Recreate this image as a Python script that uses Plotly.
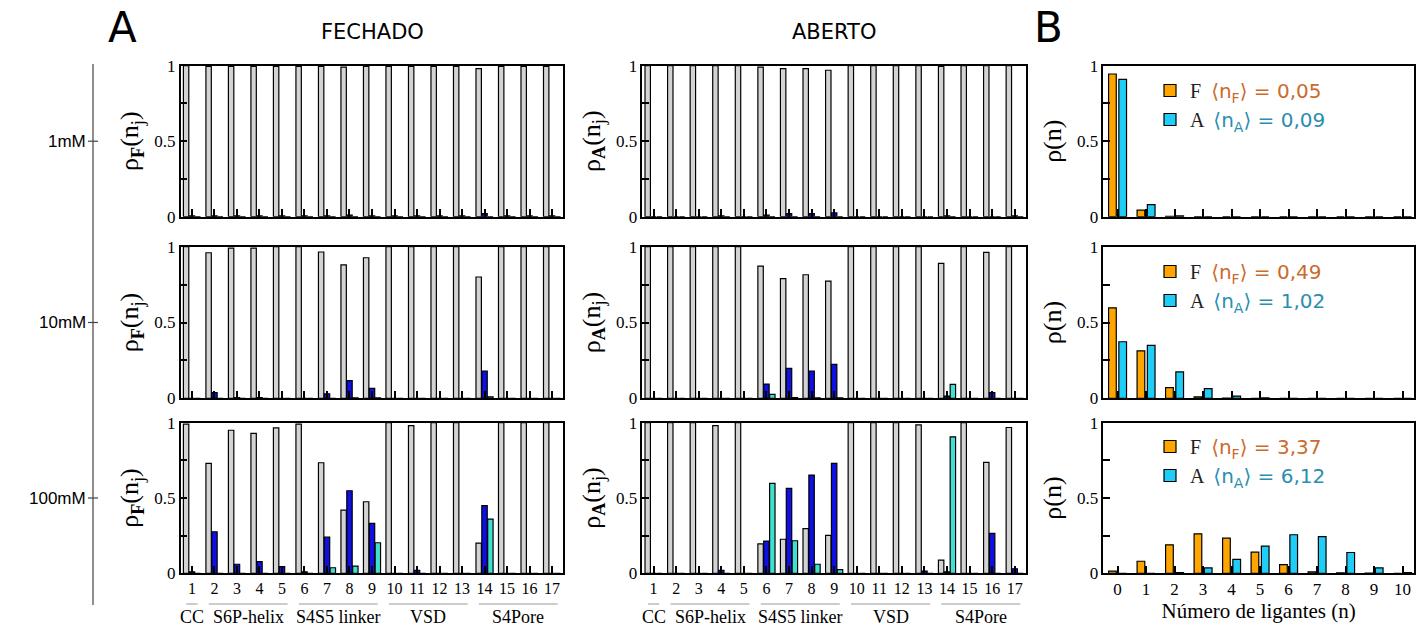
import plotly.graph_objects as go

# ---------------- data ----------------
residues = list(range(1, 18))
n_ligands = list(range(0, 11))
concentrations = ["1mM", "10mM", "100mM"]

# FECHADO (closed) - occupancy probability of each site: n=0 (gray), n=1 (blue), n=2 (turquoise)
fech_1mM_n0 = [1.0, 0.995, 0.995, 0.995, 0.995, 0.995, 0.995, 0.99, 0.995, 0.995, 0.995, 0.995, 0.995, 0.98, 0.995, 0.995, 0.995]
fech_1mM_n1 = [0.005, 0.005, 0.005, 0.005, 0.005, 0.005, 0.005, 0.01, 0.005, 0.005, 0.005, 0.005, 0.005, 0.02, 0.005, 0.005, 0.005]
fech_1mM_n2 = [0.0] * 17

fech_10mM_n0 = [1.0, 0.96, 0.99, 0.99, 1.0, 1.0, 0.965, 0.88, 0.927, 1.0, 1.0, 1.0, 1.0, 0.80, 1.0, 1.0, 1.0]
fech_10mM_n1 = [0.0, 0.037, 0.005, 0.005, 0.0, 0.0, 0.03, 0.116, 0.066, 0.0, 0.0, 0.0, 0.0, 0.18, 0.0, 0.0, 0.0]
fech_10mM_n2 = [0.0, 0.0, 0.0, 0.0, 0.0, 0.0, 0.0, 0.003, 0.003, 0.0, 0.0, 0.0, 0.0, 0.01, 0.0, 0.0, 0.0]

fech_100mM_n0 = [0.99, 0.73, 0.95, 0.929, 0.966, 0.99, 0.734, 0.42, 0.475, 1.0, 0.98, 1.0, 1.0, 0.2, 1.0, 1.0, 1.0]
fech_100mM_n1 = [0.01, 0.276, 0.06, 0.077, 0.044, 0.01, 0.24, 0.548, 0.332, 0.0, 0.02, 0.0, 0.0, 0.449, 0.0, 0.0, 0.0]
fech_100mM_n2 = [0.0, 0.0, 0.0, 0.0, 0.0, 0.0, 0.037, 0.048, 0.203, 0.0, 0.0, 0.0, 0.0, 0.36, 0.0, 0.0, 0.0]

# ABERTO (open)
aber_1mM_n0 = [1.0, 1.0, 1.0, 1.0, 1.0, 0.99, 0.98, 0.98, 0.97, 1.0, 1.0, 1.0, 1.0, 0.995, 1.0, 1.0, 1.0]
aber_1mM_n1 = [0.0, 0.0, 0.0, 0.005, 0.0, 0.01, 0.02, 0.02, 0.025, 0.0, 0.0, 0.0, 0.0, 0.005, 0.0, 0.0, 0.005]
aber_1mM_n2 = [0.0] * 17

aber_10mM_n0 = [1.0, 1.0, 1.0, 1.0, 1.0, 0.872, 0.79, 0.815, 0.773, 1.0, 1.0, 1.0, 1.0, 0.89, 1.0, 0.962, 1.0]
aber_10mM_n1 = [0.0, 0.0, 0.0, 0.0, 0.0, 0.094, 0.198, 0.18, 0.224, 0.0, 0.0, 0.0, 0.0, 0.015, 0.0, 0.037, 0.0]
aber_10mM_n2 = [0.0, 0.0, 0.0, 0.0, 0.0, 0.026, 0.005, 0.003, 0.003, 0.0, 0.0, 0.0, 0.0, 0.092, 0.0, 0.0, 0.0]

aber_100mM_n0 = [1.0, 1.0, 1.0, 0.98, 1.0, 0.195, 0.226, 0.296, 0.252, 1.0, 1.0, 1.0, 0.985, 0.088, 1.0, 0.737, 0.968]
aber_100mM_n1 = [0.0, 0.0, 0.0, 0.02, 0.0, 0.214, 0.564, 0.652, 0.73, 0.0, 0.0, 0.0, 0.015, 0.01, 0.0, 0.265, 0.03]
aber_100mM_n2 = [0.0, 0.0, 0.0, 0.0, 0.0, 0.597, 0.216, 0.06, 0.025, 0.0, 0.0, 0.0, 0.0, 0.906, 0.0, 0.0, 0.0]

# Panel B: distribution of total number of bound ligands
rhoF_1mM = [0.945, 0.043, 0.003, 0.0, 0.0, 0.0, 0.0, 0.0, 0.0, 0.0, 0.0]
rhoA_1mM = [0.909, 0.08, 0.005, 0.0, 0.0, 0.0, 0.0, 0.0, 0.0, 0.0, 0.0]
rhoF_10mM = [0.597, 0.313, 0.071, 0.01, 0.002, 0.0, 0.0, 0.0, 0.0, 0.0, 0.0]
rhoA_10mM = [0.373, 0.349, 0.174, 0.064, 0.015, 0.003, 0.0, 0.0, 0.0, 0.0, 0.0]
rhoF_100mM = [0.015, 0.08, 0.189, 0.262, 0.233, 0.14, 0.058, 0.01, 0.003, 0.002, 0.0]
rhoA_100mM = [0.0, 0.0, 0.005, 0.036, 0.093, 0.18, 0.256, 0.243, 0.138, 0.036, 0.005]
meanF = ["0,05", "0,49", "3,37"]
meanA = ["0,09", "1,02", "6,12"]

groups = ["CC", "S6P-helix", "S4S5 linker", "VSD", "S4Pore"]
group_first = [1, 2, 6, 10, 14]
group_last = [1, 5, 9, 13, 17]

# ---------------- style ----------------
SERIF = "Liberation Serif"
SANS = "DejaVu Sans"
GRAY = "#d3d3d3"
BLUE = "#1010e6"
TURQ = "#40e0d0"
ORANGE = "#ffa500"
SKY = "#1fcdf7"
COL_F = "#cc6a2c"
COL_A = "#2a8eb0"
W, H = 1428, 627

def px_x(p):
    return p / W

def px_y(p):
    return 1 - p / H

col_dom = [[px_x(180.7), px_x(563.3)], [px_x(642.3), px_x(1026)], [px_x(1103.3), px_x(1414)]]
row_px = [(65.7, 216.7), (246.7, 398.3), (422.7, 573.3)]
row_dom = [[px_y(b), px_y(t)] for t, b in row_px]

fech = [(fech_1mM_n0, fech_1mM_n1, fech_1mM_n2),
        (fech_10mM_n0, fech_10mM_n1, fech_10mM_n2),
        (fech_100mM_n0, fech_100mM_n1, fech_100mM_n2)]
aber = [(aber_1mM_n0, aber_1mM_n1, aber_1mM_n2),
        (aber_10mM_n0, aber_10mM_n1, aber_10mM_n2),
        (aber_100mM_n0, aber_100mM_n1, aber_100mM_n2)]
rhoF = [rhoF_1mM, rhoF_10mM, rhoF_100mM]
rhoA = [rhoA_1mM, rhoA_10mM, rhoA_100mM]

fig = go.Figure()
line = dict(color="black", width=1.2)
site_colors = [GRAY, BLUE, TURQ]
site_offsets = [-0.38, -0.12, 0.14]

for r in range(3):
    for c, data in enumerate([fech[r], aber[r]]):
        idx = r * 3 + c + 1
        for k in range(3):
            fig.add_trace(go.Bar(
                x=residues, y=data[k], width=0.24, offset=site_offsets[k],
                marker=dict(color=site_colors[k], line=line),
                xaxis=f"x{idx}", yaxis=f"y{idx}", showlegend=False,
                hoverinfo="x+y"))
    idx = r * 3 + 3
    leg = "legend" if r == 0 else f"legend{r + 1}"
    nameF = ('F  <span style="font-family:%s;color:%s;font-size:20px">⟨n<sub>F</sub>⟩ = %s</span>'
             % (SANS, COL_F, meanF[r]))
    nameA = ('A  <span style="font-family:%s;color:%s;font-size:20px">⟨n<sub>A</sub>⟩ = %s</span>'
             % (SANS, COL_A, meanA[r]))
    fig.add_trace(go.Bar(x=n_ligands, y=rhoF[r], width=0.27, offset=-0.315,
                         marker=dict(color=ORANGE, line=line), name=nameF,
                         xaxis=f"x{idx}", yaxis=f"y{idx}", legend=leg, showlegend=True))
    fig.add_trace(go.Bar(x=n_ligands, y=rhoA[r], width=0.27, offset=0.045,
                         marker=dict(color=SKY, line=line), name=nameA,
                         xaxis=f"x{idx}", yaxis=f"y{idx}", legend=leg, showlegend=True))

layout = dict(
    width=W, height=H, margin=dict(l=0, r=0, t=0, b=0, autoexpand=False),
    paper_bgcolor="white", plot_bgcolor="white", barmode="overlay",
    font=dict(family=SERIF, size=16, color="black"),
)
ytitles = ["ρ<sub><b>F</b></sub>(n<sub>j</sub>)", "ρ<sub><b>A</b></sub>(n<sub>j</sub>)", "ρ(n)"]
for r in range(3):
    for c in range(3):
        idx = r * 3 + c + 1
        sfx = "" if idx == 1 else str(idx)
        if c < 2:
            xr = [0.5, 17.5]
            tv = residues
        else:
            xr = [-0.5, 10.4]
            tv = n_ligands
        xa = dict(domain=col_dom[c], anchor=f"y{idx}", range=xr, tickvals=tv,
                  ticks="inside", ticklen=8, tickwidth=1.5, tickcolor="black",
                  showline=True, linecolor="black", linewidth=1.5, mirror=True,
                  showgrid=False, zeroline=False, showticklabels=(r == 2),
                  tickfont=dict(family=SERIF, size=17 if c == 2 else 16))
        if c == 2 and r == 2:
            xa["title"] = dict(text="Número de ligantes (n)", font=dict(family=SERIF, size=21), standoff=0)
        ya = dict(domain=row_dom[r], anchor=f"x{idx}", range=[0, 1],
                  tickvals=[0, 0.25, 0.5, 0.75, 1], ticktext=["0", "", "0.5", "", "1"],
                  ticks="inside", ticklen=7, tickwidth=1.5, tickcolor="black",
                  showline=True, linecolor="black", linewidth=1.5, mirror=True,
                  showgrid=False, zeroline=False,
                  tickfont=dict(family=SERIF, size=17),
                  title=dict(text=ytitles[c], font=dict(family=SERIF, size=26), standoff=8))
        layout["xaxis" + sfx] = xa
        layout["yaxis" + sfx] = ya

leg_tops = [71, 252, 427]
for r in range(3):
    key = "legend" if r == 0 else f"legend{r + 1}"
    layout[key] = dict(x=px_x(1150), y=px_y(leg_tops[r]), xanchor="left", yanchor="top",
                       bgcolor="rgba(0,0,0,0)", font=dict(family=SERIF, size=20, color="#222"),
                       tracegroupgap=0, traceorder="normal")

fig.update_layout(**layout)

def note(text, x, y, size, family=SANS, xanchor="center", xref="paper"):
    return dict(text=text, x=x, y=y, xref=xref, yref="paper", xanchor=xanchor,
                yanchor="middle", showarrow=False, font=dict(family=family, size=size, color="black"))

ann = [
    note("FECHADO", px_x(372), px_y(32), 21),
    note("ABERTO", px_x(834), px_y(32), 21),
    note("A", px_x(122), px_y(27), 42),
    note("B", px_x(1048), px_y(27), 42),
]
for r, lab in enumerate(concentrations):
    yc = (row_px[r][0] + row_px[r][1]) / 2
    ann.append(note(lab, px_x(88), px_y(yc), 17, family="Liberation Sans", xanchor="right"))

shapes = []
shapes.append(dict(type="line", xref="paper", yref="paper", x0=px_x(93), x1=px_x(93),
                   y0=px_y(64), y1=px_y(605), line=dict(color="#444", width=1.2)))
for r in range(3):
    yc = (row_px[r][0] + row_px[r][1]) / 2
    shapes.append(dict(type="line", xref="paper", yref="paper", x0=px_x(88), x1=px_x(98),
                       y0=px_y(yc), y1=px_y(yc), line=dict(color="#444", width=1.2)))

for axn in ["x7", "x8"]:
    for g, f, l in zip(groups, group_first, group_last):
        x0 = max(f - 0.25, 0.55)
        x1 = l + 0.25
        shapes.append(dict(type="line", xref=axn, yref="paper", x0=x0, x1=x1,
                           y0=px_y(604), y1=px_y(604), line=dict(color="#999", width=1.2)))
        ann.append(note(g, (f + l) / 2, px_y(617), 18, family=SERIF, xref=axn))

fig.update_layout(annotations=ann, shapes=shapes)
fig.write_html("out.html",
               post_script="document.body.style.margin='0';document.body.style.overflow='hidden';")
